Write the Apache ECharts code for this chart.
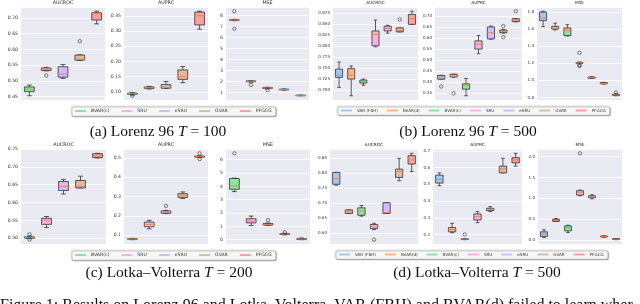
<!DOCTYPE html>
<html><head><meta charset="utf-8">
<script src="https://cdn.jsdelivr.net/npm/echarts@6/dist/echarts.min.js"></script>
<style>html,body{margin:0;padding:0;background:#fff}#c{width:640px;height:304px}</style>
</head><body><div id="c"></div>
<script>
// ---------- data ----------
const methods7 = ['VAR (FBH)', 'BVAR(d)', 'BVAR(c)', 'SRU', 'eSRU', 'GVAR', 'PFGCG'];
const methods5 = ['BVAR(c)', 'SRU', 'eSRU', 'GVAR', 'PFGCG'];
const metricTitles = ['AUCROC', 'AUPRC', 'MSE'];
const captions = ['(a) Lorenz 96 ', '(b) Lorenz 96 ', '(c) Lotka\u2013Volterra ', '(d) Lotka\u2013Volterra '];
const captionT = ['100', '500', '200', '500'];
const footer = 'Figure 1: Results on Lorenz 96 and Lotka\u2013Volterra. VAR (FBH) and BVAR(d) failed to learn wher';

// each row: [min whisker, Q1, median, Q3, max whisker]
const aAucroc = [[0.453,0.466,0.474,0.481,0.487],[0.532,0.533,0.537,0.541,0.543],[0.508,0.512,0.522,0.545,0.552],[0.565,0.566,0.569,0.582,0.583],[0.681,0.693,0.713,0.716,0.721]];
const aAucrocOut = [[1,0.517],[3,0.626]];
const aAuprc = [[0.089,0.092,0.094,0.096,0.097],[0.109,0.111,0.113,0.116,0.118],[0.111,0.112,0.116,0.124,0.134],[0.130,0.141,0.150,0.172,0.183],[0.306,0.320,0.350,0.362,0.365]];
const aAuprcOut = [[0,0.087]];
const aMse = [[7.52,7.55,7.58,7.61,7.64],[1.93,1.98,2.02,2.05,2.08],[1.32,1.36,1.41,1.45,1.48],[1.22,1.24,1.27,1.30,1.32],[0.70,0.71,0.73,0.75,0.76]];
const aMseOut = [[0,8.38],[0,6.79],[1,1.68],[2,1.21]];

const bAucroc = [[0.706,0.729,0.734,0.748,0.764],[0.687,0.725,0.734,0.749,0.755],[0.711,0.716,0.719,0.723,0.725],[0.799,0.801,0.827,0.835,0.860],[0.830,0.835,0.841,0.846,0.848],[0.833,0.833,0.836,0.842,0.842],[0.850,0.850,0.863,0.873,0.880]];
const bAucrocOut = [[5,0.861]];
const bAuprc = [[0.414,0.414,0.424,0.431,0.431],[0.423,0.424,0.428,0.436,0.437],[0.339,0.369,0.387,0.393,0.417],[0.529,0.550,0.572,0.587,0.611],[0.595,0.596,0.624,0.650,0.654],[0.622,0.624,0.630,0.636,0.638],[0.673,0.674,0.681,0.687,0.688]];
const bAuprcOut = [[0,0.381],[1,0.350],[5,0.654],[5,0.604],[6,0.721]];
const bMse = [[1.63,1.70,1.73,1.80,1.81],[1.59,1.60,1.614,1.633,1.67],[1.52,1.525,1.583,1.614,1.653],[1.195,1.199,1.205,1.211,1.215],[1.022,1.025,1.032,1.04,1.043],[0.958,0.96,0.967,0.975,0.977],[0.82,0.823,0.83,0.838,0.843]];
const bMseOut = [[3,1.323],[3,1.176],[3,1.168],[6,0.858]];

const cAucroc = [[0.499,0.500,0.502,0.504,0.506],[0.530,0.539,0.551,0.556,0.561],[0.624,0.634,0.645,0.659,0.665],[0.641,0.641,0.645,0.662,0.674],[0.725,0.726,0.731,0.737,0.738]];
const cAucrocOut = [[0,0.511],[0,0.496]];
const cAuprc = [[0.077,0.079,0.081,0.083,0.084],[0.133,0.144,0.156,0.168,0.177],[0.212,0.214,0.221,0.226,0.229],[0.290,0.296,0.308,0.315,0.324],[0.503,0.504,0.507,0.510,0.511]];
const cAuprcOut = [[2,0.252],[4,0.524],[4,0.494]];
const cMse = [[3.61,3.78,4.04,4.59,4.62],[1.06,1.26,1.39,1.57,1.77],[1.06,1.09,1.14,1.21,1.25],[0.36,0.39,0.42,0.46,0.48],[0.0,0.02,0.05,0.08,0.13]];
const cMseOut = [[0,6.48],[2,1.47],[3,0.56]];

const dAucroc = [[0.760,0.763,0.782,0.803,0.803],[0.665,0.665,0.671,0.677,0.677],[0.656,0.659,0.673,0.684,0.692],[0.611,0.614,0.620,0.628,0.632],[0.665,0.665,0.668,0.701,0.701],[0.775,0.786,0.806,0.814,0.850],[0.806,0.831,0.845,0.859,0.867]];
const dAucrocOut = [[3,0.577]];
const dAuprc = [[0.492,0.508,0.529,0.555,0.569],[0.210,0.216,0.230,0.242,0.267],[0.169,0.170,0.172,0.174,0.175],[0.271,0.287,0.307,0.323,0.337],[0.337,0.343,0.351,0.357,0.367],[0.569,0.569,0.593,0.609,0.656],[0.609,0.629,0.646,0.660,0.686]];
const dAuprcOut = [[2,0.200]];
const dMse = [[0.064,0.09,0.144,0.20,0.248],[0.448,0.45,0.472,0.50,0.52],[0.184,0.224,0.296,0.344,0.36],[1.064,1.08,1.144,1.184,1.20],[0.992,1.016,1.04,1.064,1.088],[0.072,0.076,0.088,0.100,0.104],[0.012,0.016,0.024,0.036,0.04]];
const dMseOut = [[3,2.08]];

// tick steps and label decimals per subplot
const tickStep = [[0.05,0.05,1],[0.025,0.05,0.2],[0.05,0.1,1],[0.05,0.1,0.5]];
const tickDec  = [[2,2,0],[3,2,1],[2,1,0],[2,1,1]];

// ---------- style / layout ----------
const colorMap = {'VAR (FBH)':'#a1c9f4','BVAR(d)':'#ffb482','BVAR(c)':'#8de5a1','SRU':'#fab0e4','eSRU':'#d0bbff','GVAR':'#debb9b','PFGCG':'#ff9f9b'};
const panels = [
  {methods: methods5, boxes:[aAucroc,aAuprc,aMse], outs:[aAucrocOut,aAuprcOut,aMseOut], top:7, h:93, xs:[[21,84],[124,84],[226,83]], legend:[71,106], cap:[158,132], fs:4.6, lgap:12},
  {methods: methods7, boxes:[bAucroc,bAuprc,bMse], outs:[bAucrocOut,bAuprcOut,bMseOut], top:7, h:93, xs:[[333,85],[435,87],[537,85]], legend:[337,106], cap:[468,132], fs:4.1, lgap:9},
  {methods: methods5, boxes:[cAucroc,cAuprc,cMse], outs:[cAucrocOut,cAuprcOut,cMseOut], top:149, h:95, xs:[[21,85],[124,84],[226,84]], legend:[71,250], cap:[169,273], fs:4.6, lgap:12},
  {methods: methods7, boxes:[dAucroc,dAuprc,dMse], outs:[dAucrocOut,dAuprcOut,dMseOut], top:149, h:95, xs:[[330,88],[433,89],[538,84]], legend:[335,250], cap:[477,273], fs:4.1, lgap:9}
];

const EDGE = '#333333', MED = '#DD8452';
function renderBox(params, api) {
  const x = api.value(0);
  const pMin = api.coord([x, api.value(1)]);
  const pQ1 = api.coord([x, api.value(2)]);
  const pMed = api.coord([x, api.value(3)]);
  const pQ3 = api.coord([x, api.value(4)]);
  const pMax = api.coord([x, api.value(5)]);
  const bw = api.size([1, 0])[0] * 0.58;
  const cx = pMed[0], half = bw / 2, cap = bw / 4;
  const fill = api.visual('color');
  const ls = {stroke: EDGE, lineWidth: 0.8};
  return {type: 'group', children: [
    {type: 'line', shape: {x1: cx, y1: pQ3[1], x2: cx, y2: pMax[1]}, style: ls},
    {type: 'line', shape: {x1: cx, y1: pQ1[1], x2: cx, y2: pMin[1]}, style: ls},
    {type: 'line', shape: {x1: cx - cap, y1: pMax[1], x2: cx + cap, y2: pMax[1]}, style: ls},
    {type: 'line', shape: {x1: cx - cap, y1: pMin[1], x2: cx + cap, y2: pMin[1]}, style: ls},
    {type: 'rect', shape: {x: cx - half, y: pQ3[1], width: bw, height: Math.max(pQ1[1] - pQ3[1], 0.5)}, style: {fill: fill, stroke: EDGE, lineWidth: 0.8}},
    {type: 'line', shape: {x1: cx - half, y1: pMed[1], x2: cx + half, y2: pMed[1]}, style: {stroke: MED, lineWidth: 0.9}}
  ]};
}

const grid = [], xAxis = [], yAxis = [], series = [], legend = [], graphic = [];
let g = 0;
panels.forEach((p, pi) => {
  for (let k = 0; k < 3; k++) {
    const [left, w] = p.xs[k];
    grid.push({left: left, top: p.top, width: w, height: p.h, show: true, backgroundColor: '#eaeaf2', borderWidth: 0});
    xAxis.push({gridIndex: g, type: 'category', data: p.methods, axisLine: {show: false}, axisTick: {show: false}, axisLabel: {show: false}, splitLine: {show: false}});
    const boxes = p.boxes[k], outs = p.outs[k];
    let lo = Infinity, hi = -Infinity;
    boxes.forEach(b => { lo = Math.min(lo, b[0]); hi = Math.max(hi, b[4]); });
    outs.forEach(o => { lo = Math.min(lo, o[1]); hi = Math.max(hi, o[1]); });
    const m = (hi - lo) * 0.05;
    const step = tickStep[pi][k], dec = tickDec[pi][k];
    yAxis.push({gridIndex: g, type: 'value', min: lo - m, max: hi + m, minInterval: step, maxInterval: step, splitNumber: 6,
      axisLine: {show: false}, axisTick: {show: false},
      splitLine: {show: true, lineStyle: {color: '#ffffff', width: 0.8}},
      axisLabel: {fontSize: p.fs, fontFamily: 'DejaVu Sans', color: '#333', margin: 3,
        formatter: v => (Math.abs(v / step - Math.round(v / step)) < 1e-6 ? v.toFixed(dec) : '')}});
    p.methods.forEach((name, i) => {
      series.push({type: 'custom', name: name, xAxisIndex: g, yAxisIndex: g, itemStyle: {color: colorMap[name]},
        renderItem: renderBox, encode: {x: 0, y: [1, 2, 3, 4, 5]}, data: [[i].concat(boxes[i])], silent: true, z: 2});
    });
    series.push({type: 'scatter', name: 'outliers' + g, xAxisIndex: g, yAxisIndex: g, symbol: 'circle', symbolSize: 3.4,
      itemStyle: {color: 'rgba(0,0,0,0)', borderColor: '#222', borderWidth: 0.7}, data: outs, silent: true, z: 3});
    graphic.push({type: 'text', x: left + w / 2, y: p.top - 4.5, style: {text: metricTitles[k], align: 'center', verticalAlign: 'middle', fontSize: p.fs + 0.2, fontFamily: 'DejaVu Sans', fill: '#222'}});
    g++;
  }
  legend.push({data: p.methods, left: p.legend[0], top: p.legend[1], orient: 'horizontal', icon: 'rect', itemWidth: 11, itemHeight: 2, itemGap: p.lgap,
    selectedMode: false, textStyle: {fontSize: p.fs, fontFamily: 'DejaVu Sans', color: '#333', padding: [0, 0, 0, 0]},
    backgroundColor: '#f7f7f7', borderColor: '#c4c4c4', borderWidth: 0.6, borderRadius: 2, padding: [2.5, 4],
    shadowColor: 'rgba(0,0,0,0.3)', shadowOffsetX: 1, shadowOffsetY: 1, shadowBlur: 0});
  graphic.push({type: 'text', x: p.cap[0], y: p.cap[1], style: {text: captions[pi] + '{i|T}{n| = ' + captionT[pi] + '}', align: 'center', verticalAlign: 'middle',
    fontSize: 15.5, fontFamily: 'Liberation Serif', fill: '#111',
    rich: {i: {fontSize: 15.5, fontFamily: 'Liberation Serif', fontStyle: 'italic', fill: '#111'}, n: {fontSize: 15.5, fontFamily: 'Liberation Serif', fill: '#111'}}}});
});
graphic.push({type: 'text', x: 0, y: 306, style: {text: footer, align: 'left', verticalAlign: 'middle', fontSize: 16, fontFamily: 'Liberation Serif', fill: '#111'}});

const chart = echarts.init(document.getElementById('c'), null, {renderer: 'canvas'});
chart.setOption({animation: false, grid, xAxis, yAxis, series, legend, graphic});
</script></body></html>
